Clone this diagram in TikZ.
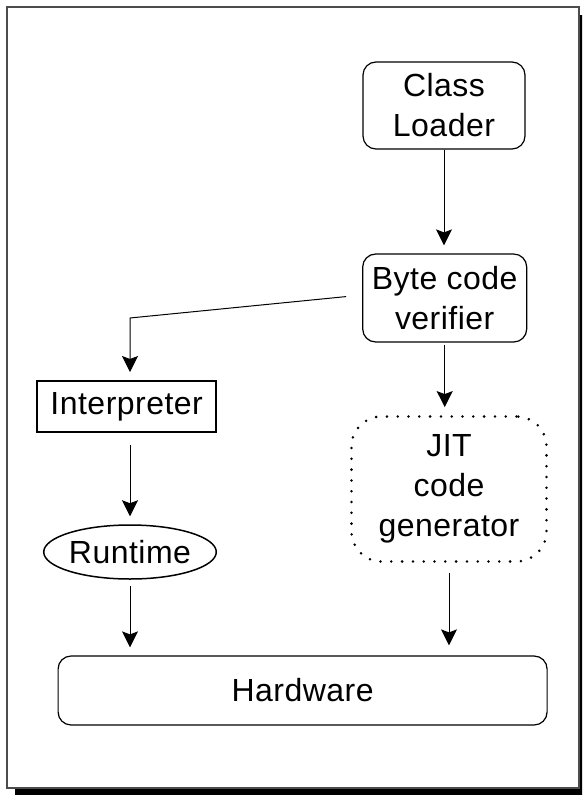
\documentclass[tikz,border=0pt]{standalone}
\usepackage{fontspec}
\setmainfont[LetterSpace=1.5]{Liberation Sans}
\usetikzlibrary{arrows.meta,shapes.geometric,calc}
\begin{document}
\begin{tikzpicture}[x=1pt,y=-1pt,
  lbl/.style={font=\fontsize{32}{40}\selectfont, align=center, inner sep=0pt},
  rbox/.style={lbl, draw, line width=1.2pt, rounded corners=13pt},
  dotbox/.style={lbl, draw, line width=2.8pt, line cap=round,
    dash pattern=on 0pt off 10.8pt, rounded corners=30pt},
  arr/.style={-{Stealth[length=16pt,width=16pt,inset=3pt]}, line width=1pt,
    shorten >=8pt, shorten <=2pt}]
\useasboundingbox (0,0) rectangle (582,795);
\clip (0,0) rectangle (582,795);

% page frame with drop shadow
\fill[black] (15,15) rectangle (590,798);
\draw[fill=white, line width=2pt, draw=black!70] (7,7) rectangle (579,788);

% components
\node[rbox, minimum width=162pt, minimum height=87pt] (cl) at (444,105.5) {Class\\Loader};
\node[rbox, minimum width=164pt, minimum height=88pt] (bv) at (444.7,298) {Byte code\\verifier};
\node[lbl, draw, line width=2pt, minimum width=179pt, minimum height=51pt] (ip) at (126.7,406.5) {Interpreter};
\node[lbl, draw, ellipse, line width=1.5pt, minimum width=170pt, minimum height=54pt] (rt) at (130,552) {Runtime};
\node[dotbox, minimum width=195pt, minimum height=145pt] (jit) at (449,489) {JIT\\code\\generator};
\node[rbox, minimum width=489pt, minimum height=69pt] (hw) at (302.6,690.5) {Hardware};

% flow
\coordinate (elbow) at (130,318);
\draw[arr, shorten <=0pt] (cl.south) -- (cl.south |- bv.north);
\draw[arr] (bv.south) -- (bv.south |- jit.north);
\draw[arr, shorten <=16pt] ([yshift=3pt]bv.west) -- (elbow) -- (elbow |- ip.north);
\draw[arr, shorten <=12pt] (rt.north |- ip.south) -- (rt.north);
\draw[arr, shorten <=6pt] (rt.south) -- (rt.south |- hw.north);
\draw[arr, shorten <=10pt, shorten >=10pt] (jit.south) -- (jit.south |- hw.north);
\end{tikzpicture}
\end{document}
